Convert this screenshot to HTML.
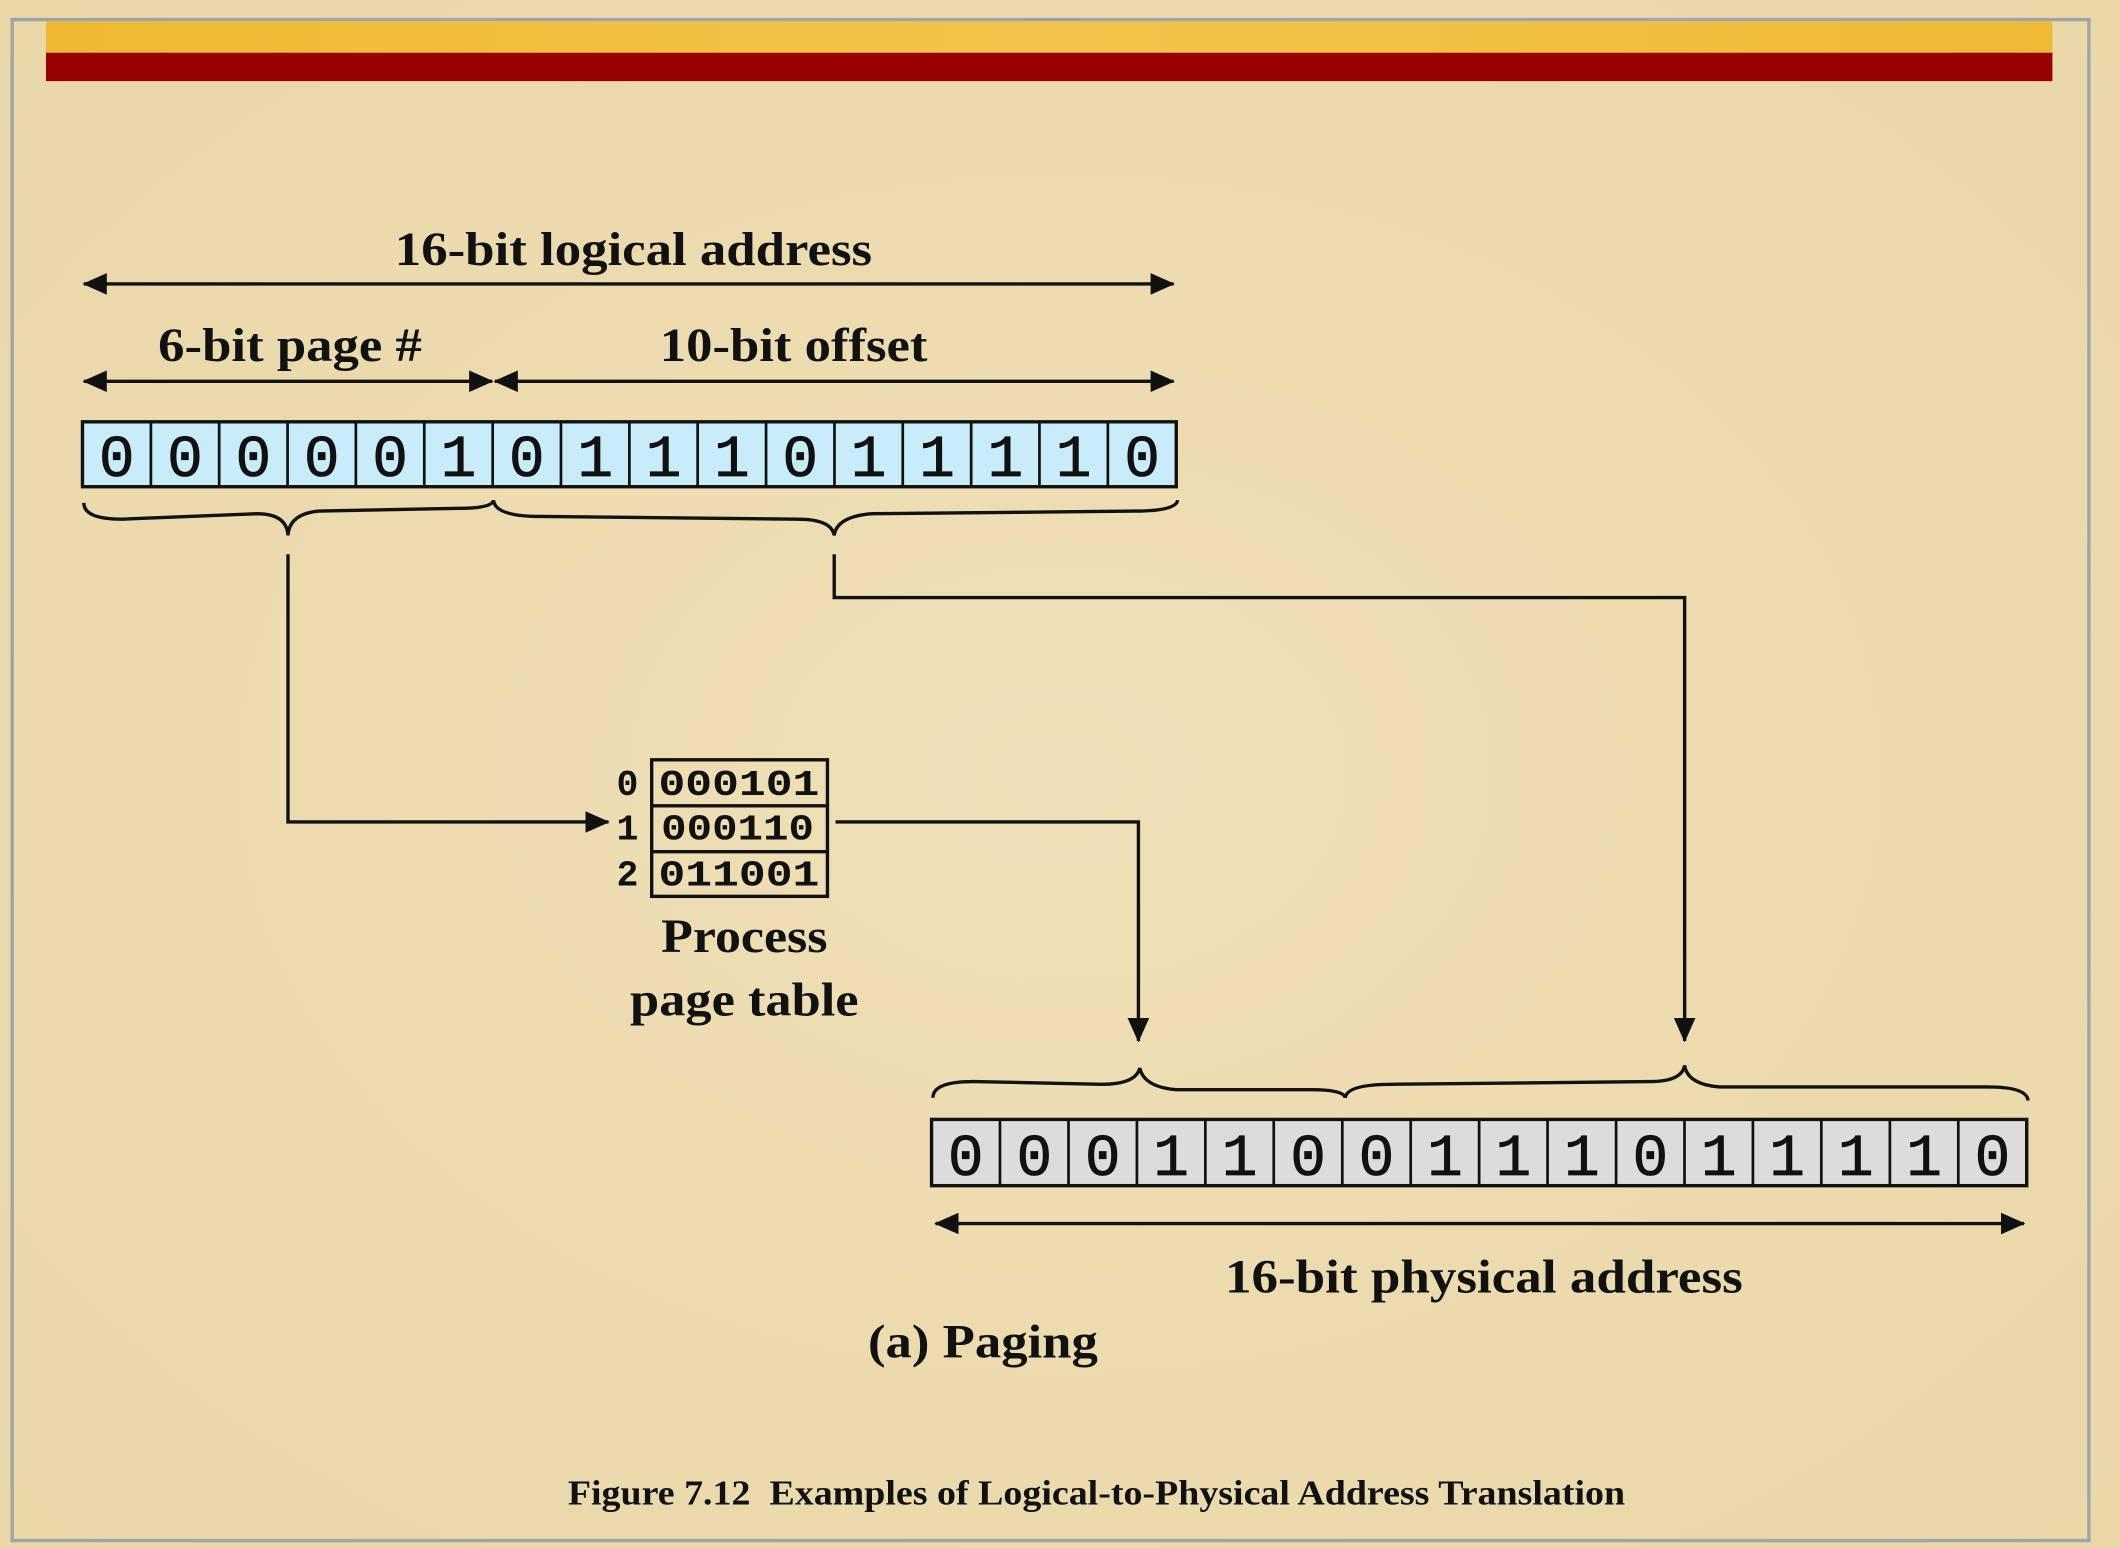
<!DOCTYPE html>
<html><head><meta charset="utf-8"><style>
html,body{margin:0;padding:0;background:#efe0b8;}
svg{display:block;}
.t{font-family:"Liberation Serif",serif;font-weight:bold;fill:#111;}
.m{font-family:"Liberation Mono",monospace;fill:#111;}
</style></head><body>
<svg width="2120" height="1548" viewBox="0 0 1568 1145" preserveAspectRatio="none" xmlns="http://www.w3.org/2000/svg">
<defs>
<linearGradient id="gold" x1="0" y1="0" x2="1" y2="0">
<stop offset="0" stop-color="#f0b830"/><stop offset="0.5" stop-color="#f3c44a"/><stop offset="1" stop-color="#efb934"/>
</linearGradient>
<radialGradient id="bg" cx="0.5" cy="0.5" r="0.8">
<stop offset="0" stop-color="#efdfb6"/><stop offset="1" stop-color="#e8d6a6"/>
</radialGradient>
<marker id="ah2" markerWidth="18" markerHeight="16" refX="17" refY="8" orient="auto-start-reverse" markerUnits="userSpaceOnUse" viewBox="0 0 18 16">
<path d="M0,0 L18,8 L0,16 z" fill="#111"/>
</marker>
</defs>
<rect x="0" y="0" width="1568" height="1145" fill="url(#bg)"/>
<rect x="9" y="14.5" width="1536" height="1125" fill="none" stroke="#a0a4a8" stroke-width="2.5"/>
<rect x="34" y="16" width="1484" height="23" fill="url(#gold)"/>
<rect x="34" y="39" width="1484" height="21" fill="#990000"/>

<g stroke="#111" stroke-width="2.5" fill="none">
<line x1="62" y1="210" x2="868" y2="210" marker-start="url(#ah2)" marker-end="url(#ah2)"/>
<line x1="62" y1="282" x2="364" y2="282" marker-start="url(#ah2)" marker-end="url(#ah2)"/>
<line x1="366" y1="282" x2="868" y2="282" marker-start="url(#ah2)" marker-end="url(#ah2)"/>
<line x1="692" y1="905" x2="1497" y2="905" marker-start="url(#ah2)" marker-end="url(#ah2)"/>
<path d="M62,372 Q62,384 90,384 L190,380 Q212,380 213,396 Q214,380 236,378 L340,376 Q364,376 365,370"/>
<path d="M365,370 Q366,382 400,382 L590,384 Q615,384 617,396 Q619,382 645,380 L840,378 Q870,378 871,370"/>
<path d="M690,812 Q690,800 720,800 L815,802 Q840,802 843,790 Q846,804 870,806 L970,806 Q994,806 995,812"/>
<path d="M995,812 Q996,802 1030,802 L1220,800 Q1244,800 1246,788 Q1248,802 1272,804 L1470,804 Q1499,804 1500,814"/>
<polyline points="213,410 213,608 450,608" marker-end="url(#ah2)"/>
<polyline points="617,410 617,442 1246,442 1246,770" marker-end="url(#ah2)"/>
<polyline points="618,608 842,608 842,770" marker-end="url(#ah2)"/>
</g>

<text class="t" x="292" y="196" font-size="35" textLength="353" lengthAdjust="spacingAndGlyphs">16-bit logical address</text>
<text class="t" x="117" y="267" font-size="35" textLength="195" lengthAdjust="spacingAndGlyphs">6-bit page #</text>
<text class="t" x="488" y="267" font-size="35" textLength="198" lengthAdjust="spacingAndGlyphs">10-bit offset</text>

<g>
<rect x="61" y="312" width="809" height="48" fill="#c8ecfa" stroke="#111" stroke-width="2.5"/>
<g stroke="#111" stroke-width="2">
<line x1="111.6" y1="312" x2="111.6" y2="360"/><line x1="162.1" y1="312" x2="162.1" y2="360"/><line x1="212.7" y1="312" x2="212.7" y2="360"/><line x1="263.2" y1="312" x2="263.2" y2="360"/><line x1="313.8" y1="312" x2="313.8" y2="360"/><line x1="364.4" y1="312" x2="364.4" y2="360"/><line x1="414.9" y1="312" x2="414.9" y2="360"/><line x1="465.5" y1="312" x2="465.5" y2="360"/><line x1="516" y1="312" x2="516" y2="360"/><line x1="566.6" y1="312" x2="566.6" y2="360"/><line x1="617.2" y1="312" x2="617.2" y2="360"/><line x1="667.7" y1="312" x2="667.7" y2="360"/><line x1="718.3" y1="312" x2="718.3" y2="360"/><line x1="768.8" y1="312" x2="768.8" y2="360"/><line x1="819.4" y1="312" x2="819.4" y2="360"/>
</g>
<text class="m" y="352" font-size="44" text-anchor="middle" stroke="#111" stroke-width="0.6">
<tspan x="86.3">0</tspan><tspan x="136.8">0</tspan><tspan x="187.4">0</tspan><tspan x="238">0</tspan><tspan x="288.5">0</tspan><tspan x="339.1">1</tspan><tspan x="389.6">0</tspan><tspan x="440.2">1</tspan><tspan x="490.8">1</tspan><tspan x="541.3">1</tspan><tspan x="591.9">0</tspan><tspan x="642.4">1</tspan><tspan x="693">1</tspan><tspan x="743.6">1</tspan><tspan x="794.1">1</tspan><tspan x="844.7">0</tspan>
</text>
</g>

<g stroke="#111" stroke-width="2.5" fill="none">
<rect x="482" y="562" width="130" height="101"/>
<line x1="482" y1="596" x2="612" y2="596"/><line x1="482" y1="630" x2="612" y2="630"/>
</g>
<g class="m" font-size="27" font-weight="bold">
<text x="487" y="588" textLength="119" lengthAdjust="spacingAndGlyphs">000101</text>
<text x="489" y="621" textLength="113" lengthAdjust="spacingAndGlyphs">000110</text>
<text x="487" y="655" textLength="119" lengthAdjust="spacingAndGlyphs">011001</text>
<text x="456" y="588">0</text><text x="456" y="621">1</text><text x="456" y="655">2</text>
</g>
<text class="t" x="489" y="704" font-size="35" textLength="123" lengthAdjust="spacingAndGlyphs">Process</text>
<text class="t" x="466" y="751" font-size="35" textLength="169" lengthAdjust="spacingAndGlyphs">page table</text>

<g>
<rect x="689" y="828" width="810" height="49" fill="#dcdcdc" stroke="#111" stroke-width="2.5"/>
<g stroke="#111" stroke-width="2">
<line x1="739.6" y1="828" x2="739.6" y2="877"/><line x1="790.3" y1="828" x2="790.3" y2="877"/><line x1="840.9" y1="828" x2="840.9" y2="877"/><line x1="891.5" y1="828" x2="891.5" y2="877"/><line x1="942.1" y1="828" x2="942.1" y2="877"/><line x1="992.8" y1="828" x2="992.8" y2="877"/><line x1="1043.4" y1="828" x2="1043.4" y2="877"/><line x1="1094" y1="828" x2="1094" y2="877"/><line x1="1144.6" y1="828" x2="1144.6" y2="877"/><line x1="1195.3" y1="828" x2="1195.3" y2="877"/><line x1="1245.9" y1="828" x2="1245.9" y2="877"/><line x1="1296.5" y1="828" x2="1296.5" y2="877"/><line x1="1347.1" y1="828" x2="1347.1" y2="877"/><line x1="1397.8" y1="828" x2="1397.8" y2="877"/><line x1="1448.4" y1="828" x2="1448.4" y2="877"/>
</g>
<text class="m" y="869" font-size="44" text-anchor="middle" stroke="#111" stroke-width="0.6">
<tspan x="714.3">0</tspan><tspan x="765">0</tspan><tspan x="815.6">0</tspan><tspan x="866.2">1</tspan><tspan x="916.8">1</tspan><tspan x="967.5">0</tspan><tspan x="1018.1">0</tspan><tspan x="1068.7">1</tspan><tspan x="1119.3">1</tspan><tspan x="1170">1</tspan><tspan x="1220.6">0</tspan><tspan x="1271.2">1</tspan><tspan x="1321.8">1</tspan><tspan x="1372.5">1</tspan><tspan x="1423.1">1</tspan><tspan x="1473.7">0</tspan>
</text>
</g>

<text class="t" x="906" y="956" font-size="35" textLength="383" lengthAdjust="spacingAndGlyphs">16-bit physical address</text>
<text class="t" x="642" y="1004" font-size="35" textLength="170" lengthAdjust="spacingAndGlyphs">(a) Paging</text>
<text class="t" x="420" y="1113" font-size="26" textLength="782" lengthAdjust="spacingAndGlyphs" xml:space="preserve">Figure 7.12  Examples of Logical-to-Physical Address Translation</text>
</svg>
</body></html>
